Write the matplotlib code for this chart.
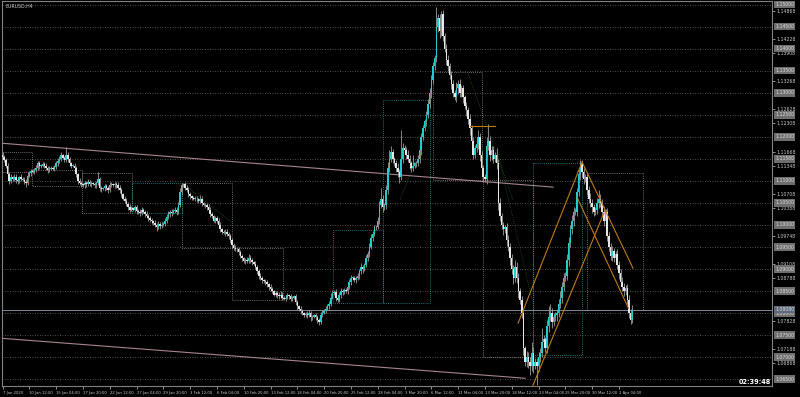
import numpy as np
import matplotlib
matplotlib.use("Agg")
from matplotlib import pyplot as plt
from matplotlib.transforms import blended_transform_factory

# EURUSD H4, 7 Jan 2020 20:00 -> 3 Apr 2020 12:00, prices in pips (1.1155 -> 11155)
first_open = 11160
closes = [
    11155,
    11148, 11135, 11115, 11100, 11108, 11105,  # 8 Jan
    11110, 11102, 11100, 11108, 11105, 11103,
    11098, 11095, 11112, 11118, 11122, 11120,
    11125, 11130, 11140, 11135, 11135, 11138,  # 13 Jan
    11135, 11130, 11125, 11128, 11130, 11128,
    11132, 11140, 11145, 11150, 11158, 11152,
    11148, 11160, 11150, 11140, 11135, 11135,
    11130, 11115, 11100, 11095, 11092, 11090,
    11095, 11092, 11098, 11093, 11095, 11093,  # 20 Jan
    11090, 11095, 11105, 11085, 11082, 11083,
    11088, 11085, 11080, 11090, 11092, 11090,
    11092, 11090, 11085, 11080, 11070, 11060,
    11055, 11048, 11040, 11035, 11038, 11035,
    11040, 11032, 11030, 11028, 11035, 11030,  # 27 Jan
    11025, 11020, 11015, 11012, 11008, 11005,
    11000, 10995, 11002, 10998, 11000, 11003,
    11010, 11018, 11025, 11030, 11028, 11032,
    11035, 11030, 11045, 11075, 11090, 11092,
    11085, 11080, 11070, 11065, 11062, 11060,  # 3 Feb
    11060, 11058, 11055, 11060, 11050, 11045,
    11045, 11040, 11035, 11025, 11020, 11010,
    11015, 11010, 11000, 10990, 10985, 10982,
    10985, 10980, 10975, 10965, 10955, 10948,
    10945, 10945, 10938, 10930, 10925, 10918,  # 10 Feb
    10920, 10918, 10925, 10920, 10915, 10912,
    10905, 10895, 10885, 10880, 10875, 10872,
    10870, 10865, 10860, 10855, 10850, 10842,
    10845, 10840, 10838, 10842, 10835, 10832,
    10835, 10840, 10838, 10832, 10835, 10838,  # 17 Feb
    10825, 10815, 10810, 10805, 10800, 10795,
    10798, 10795, 10800, 10790, 10792, 10795,
    10790, 10785, 10780, 10795, 10800, 10805,
    10810, 10815, 10820, 10835, 10845, 10848,
    10835, 10830, 10840, 10850, 10848, 10852,  # 24 Feb
    10850, 10860, 10870, 10880, 10880, 10875,
    10880, 10885, 10895, 10905, 10900, 10910,
    10925, 10935, 10950, 10970, 10980, 10995,
    10995, 11010, 11045, 11060, 11040, 11045,
    11080, 11130, 11150, 11165, 11150, 11140,  # 2 Mar
    11130, 11120, 11110, 11150, 11175, 11170,
    11160, 11150, 11140, 11130, 11135, 11140,
    11140, 11150, 11170, 11200, 11220, 11235,
    11250, 11275, 11300, 11330, 11360, 11380,
    11450, 11470, 11440, 11478, 11430, 11400,  # 9 Mar
    11375, 11360, 11340, 11320, 11300, 11290,
    11310, 11320, 11300, 11310, 11290, 11270,
    11260, 11240, 11220, 11190, 11160, 11175,
    11185, 11200, 11160, 11130, 11110, 11105,
    11180, 11190, 11160, 11170, 11150, 11160,  # 16 Mar
    11140, 11050, 11020, 11000, 10990, 10995,
    10965, 10950, 10925, 10900, 10880, 10905,
    10880, 10850, 10830, 10800, 10720, 10690,
    10700, 10690, 10680, 10710, 10680, 10690,
    10680, 10700, 10710, 10735, 10740, 10720,  # 23 Mar
    10770, 10790, 10800, 10780, 10790, 10795,
    10800, 10820, 10835, 10860, 10880, 10885,
    10920, 10960, 10990, 11010, 11030, 11030,
    11075, 11115, 11140, 11120, 11105, 11110,
    11080, 11060, 11050, 11040, 11030, 11035,  # 30 Mar
    11050, 11060, 11050, 11030, 11010, 11030,
    10975, 10950, 10930, 10940, 10925, 10935,
    10910, 10890, 10870, 10860, 10850, 10857,
    10830, 10800, 10785, 10808,
]
upper_wick = [
    6,
    5, 4, 6, 5, 7, 4,  5, 6, 5, 4, 7, 5,  5, 6, 8, 5, 6, 4,
    5, 7, 6, 5, 4, 5,  6, 5, 4, 6, 5, 3,  5, 6, 7, 6, 8, 4,  5, 18, 6, 5, 4, 3,  6, 5, 4, 6, 5, 3,
    4, 5, 6, 4, 5, 3,  5, 6, 15, 5, 4, 3,  5, 6, 4, 7, 5, 3,  6, 5, 7, 5, 4, 3,  5, 6, 5, 7, 5, 3,
    6, 5, 4, 6, 5, 3,  5, 6, 4, 5, 4, 3,  6, 5, 7, 5, 6, 4,  5, 6, 7, 5, 6, 4,  6, 5, 8, 10, 6, 4,
    5, 6, 7, 5, 4, 3,  5, 6, 4, 8, 5, 3,  6, 5, 7, 5, 4, 3,  5, 6, 5, 6, 4, 3,  5, 6, 4, 5, 6, 3,
    6, 5, 4, 6, 5, 3,  5, 7, 8, 6, 5, 3,  6, 5, 4, 6, 5, 3,  5, 6, 4, 7, 5, 3,  6, 5, 7, 9, 5, 3,
    5, 6, 4, 5, 4, 3,  6, 5, 4, 6, 5, 3,  5, 6, 7, 5, 4, 3,  6, 5, 4, 8, 7, 4,  5, 6, 7, 10, 8, 4,
    6, 5, 7, 6, 5, 4,  6, 7, 8, 6, 5, 4,  5, 7, 6, 8, 5, 4,  6, 7, 8, 9, 7, 5,  6, 9, 10, 25, 8, 4,
    10, 12, 20, 15, 8, 5,  8, 10, 7, 65, 12, 6,  7, 10, 8, 6, 25, 4,  6, 8, 9, 10, 8, 5,  8, 10, 12, 10, 9, 6,
    45, 10, 8, 7, 10, 6,  10, 12, 8, 10, 9, 6,  15, 10, 12, 9, 8, 5,  10, 9, 12, 8, 10, 6,  12, 15, 10, 8, 7, 5,
    20, 40, 12, 10, 9, 6,  15, 10, 12, 8, 7, 6,  10, 12, 9, 8, 10, 15,  10, 12, 8, 9, 10, 6,  15, 12, 10, 25, 12, 8,
    8, 12, 10, 30, 10, 6,  15, 25, 20, 12, 10, 8,  10, 12, 15, 10, 12, 8,  15, 12, 10, 12, 10, 8,  10, 12, 7, 8, 10, 6,
    10, 8, 12, 9, 8, 6,  12, 20, 10, 8, 12, 6,  8, 10, 9, 12, 8, 6,  10, 8, 9, 12, 8, 6,  8, 10, 9, 10,
]
lower_wick = [
    5,
    6, 5, 7, 8, 5, 4,  5, 7, 6, 4, 5, 3,  6, 8, 5, 4, 6, 3,
    5, 4, 6, 7, 5, 3,  6, 5, 7, 5, 4, 3,  5, 4, 6, 5, 4, 3,  6, 5, 7, 6, 5, 3,  5, 6, 7, 5, 6, 4,
    5, 6, 4, 5, 6, 3,  6, 5, 4, 7, 6, 3,  5, 6, 7, 5, 4, 3,  5, 6, 5, 7, 6, 4,  6, 5, 7, 5, 4, 3,
    5, 6, 5, 7, 5, 3,  6, 5, 7, 6, 5, 4,  5, 8, 5, 6, 5, 3,  6, 5, 4, 6, 7, 3,  5, 7, 6, 5, 8, 4,
    6, 5, 7, 6, 5, 3,  5, 6, 5, 4, 6, 3,  6, 5, 7, 6, 5, 4,  5, 6, 7, 5, 6, 3,  6, 5, 7, 6, 8, 4,
    5, 6, 7, 5, 6, 4,  6, 5, 4, 6, 5, 3,  5, 6, 7, 5, 6, 4,  6, 5, 7, 6, 5, 4,  5, 6, 5, 4, 6, 3,
    5, 4, 6, 5, 4, 3,  6, 7, 5, 6, 5, 4,  5, 6, 4, 8, 5, 3,  6, 7, 6, 5, 4, 3,  5, 4, 6, 5, 4, 3,
    8, 6, 5, 6, 7, 4,  5, 6, 5, 7, 6, 4,  6, 5, 7, 6, 8, 4,  5, 6, 7, 5, 6, 4,  6, 5, 8, 7, 10, 5,
    8, 10, 9, 7, 10, 6,  10, 12, 15, 8, 10, 6,  10, 8, 12, 10, 7, 5,  8, 7, 9, 10, 8, 6,  10, 8, 9, 12, 10, 7,
    10, 12, 15, 10, 12, 8,  12, 10, 9, 12, 10, 7,  10, 12, 9, 10, 12, 6,  12, 10, 15, 12, 10, 8,  10, 12, 15, 10, 12, 8,
    12, 10, 15, 12, 10, 8,  12, 15, 12, 10, 12, 8,  12, 10, 15, 12, 15, 10,  12, 15, 10, 12, 15, 10,  12, 15, 20, 12, 15, 8,
    44, 12, 10, 9, 12, 8,  10, 12, 9, 15, 10, 8,  12, 10, 9, 12, 10, 8,  10, 12, 9, 10, 12, 8,  10, 9, 12, 10, 12, 8,
    12, 10, 9, 12, 10, 8,  10, 12, 9, 10, 12, 8,  12, 10, 9, 12, 10, 8,  10, 12, 9, 10, 12, 8,  10, 12, 9, 8,
]

x_labels = ["7 Jan 2020", "10 Jan 12:00", "15 Jan 04:00", "17 Jan 20:00", "22 Jan 12:00",
            "27 Jan 04:00", "29 Jan 20:00", "3 Feb 12:00", "6 Feb 04:00", "10 Feb 20:00",
            "13 Feb 12:00", "18 Feb 04:00", "20 Feb 20:00", "25 Feb 12:00", "28 Feb 04:00",
            "3 Mar 20:00", "6 Mar 12:00", "11 Mar 04:00", "13 Mar 20:00", "18 Mar 12:00",
            "23 Mar 04:00", "25 Mar 20:00", "30 Mar 12:00", "2 Apr 04:00"]
label_step = 16  # bars between time labels

# objects on the chart: (bar0, bar1, price top, price bottom)
gray_boxes = [(-2, 17.6, 11166, 11120), (17.6, 47.5, 11125, 11088), (47.5, 77.3, 11118, 11027),
              (107.2, 137, 11095, 10947), (137, 167.5, 10947, 10829), (257, 286.3, 11347, 11102),
              (286.9, 316.7, 11102, 10700), (349, 382.4, 11118, 10807)]
cyan_boxes = [(77.3, 107.2, 11095, 11027), (197.3, 227.2, 10988, 10823),
              (227.2, 255, 11284, 10823), (316.7, 346, 11141, 10704)]
trend_lines = [((-1.5, 11186), (328.7, 11086)), ((-1.5, 10743), (312, 10652))]
orange_lines = [((307.8, 10777), (346, 11143)), ((316.7, 10636), (359, 11027)),
                ((346, 11143), (376.4, 10902)), ((343, 11063), (373.7, 10811)),
                ((279, 11225), (294, 11225))]
zigzag_lines = [((107.2, 11095), (137.6, 11004)), ((237.3, 11057), (257, 11245)),
                ((277.9, 11345), (304.8, 11057)), ((295.2, 11170), (316.7, 10822))]
timer_text = "02:39:48"
symbol_text = "EURUSD,H4"

# ---------------------------------------------------------------
c = np.array(closes) / 10000.0
o = np.concatenate([[first_open / 10000.0], c[:-1]])
h = np.maximum(o, c) + np.array(upper_wick) / 10000.0
l = np.minimum(o, c) - np.array(lower_wick) / 10000.0
n = len(c)
idx = np.arange(n)
up = c >= o

fig = plt.figure(figsize=(8, 3.97), dpi=100, facecolor="black")
ax = fig.add_axes([2 / 800, 11 / 397, 770 / 800, 385 / 397], facecolor="black")
bar_px = 1.675
ax.set_xlim(-0.3, -0.3 + 770 / bar_px)
ax.set_ylim(1.06344, 1.15086)

# round number levels
levels = np.arange(1.0650, 1.15001, 0.005)
for lv in levels:
    ax.axhline(lv, color="#6a6a6a", lw=0.6, ls=(0, (1, 2)), zorder=1)

for b0, b1, pt, pb in gray_boxes:
    ax.plot([b0, b1, b1, b0, b0], np.array([pt, pt, pb, pb, pt]) / 10000.0,
            color="#8c8c8c", lw=0.6, ls=(0, (1, 1.5)), zorder=2)
for b0, b1, pt, pb in cyan_boxes:
    ax.plot([b0, b1, b1, b0, b0], np.array([pt, pt, pb, pb, pt]) / 10000.0,
            color="#1a9a9a", lw=0.6, ls=(0, (1, 1.5)), zorder=2)
for (x0, p0), (x1, p1) in zigzag_lines:
    ax.plot([x0, x1], [p0 / 10000.0, p1 / 10000.0], color="#1c5a1c", lw=0.6,
            ls=(0, (1, 1.5)), zorder=2)
for (x0, p0), (x1, p1) in trend_lines:
    ax.plot([x0, x1], [p0 / 10000.0, p1 / 10000.0], color="#a8848e", lw=0.8, zorder=3)

# candles
ax.vlines(idx, l, h, color="#9c9c9c", lw=0.6, zorder=4)
body_bot = np.minimum(o, c)
body_h = np.maximum(np.abs(c - o), 0.0001)
ax.bar(idx[up], body_h[up], bottom=body_bot[up], width=0.9, color="#22cccc", lw=0, zorder=5)
ax.bar(idx[~up], body_h[~up], bottom=body_bot[~up], width=0.9, color="#e6e6e6", lw=0, zorder=5)

for (x0, p0), (x1, p1) in orange_lines:
    ax.plot([x0, x1], [p0 / 10000.0, p1 / 10000.0], color="#c07a12", lw=0.8, zorder=6)

# bid line
ax.axhline(c[-1], color="#7d8a9c", lw=0.7, zorder=3)

# axes look
for sp in ax.spines.values():
    sp.set_color("#808080")
    sp.set_linewidth(0.8)
ax.yaxis.tick_right()
yt = np.arange(1.14868, 1.0640, -0.0032)
# labels sitting under a level box are hidden in the terminal
yt = [v for v in yt if np.min(np.abs(levels - v)) > 0.0009 and abs(v - c[-1]) > 0.0009]
ax.set_yticks(yt)
ax.set_yticklabels(["%.5f" % v for v in yt])
ax.tick_params(axis="y", colors="#c8c8c8", labelsize=3.3, length=2, width=0.5, pad=1)
xt = idx[::label_step]
ax.set_xticks(xt)
ax.set_xticklabels(x_labels[:len(xt)], ha="left")
ax.tick_params(axis="x", colors="#c8c8c8", labelsize=2.7, length=2, width=0.5, pad=1.5)

trans = blended_transform_factory(ax.transAxes, ax.transData)
for lv in levels:
    ax.text(1.004, lv, "%.5f" % lv, transform=trans, fontsize=3.3, color="#dddddd",
            va="center", ha="left", zorder=10,
            bbox=dict(boxstyle="square,pad=0.25", fc="#6e6e6e", ec="none"))
ax.text(1.004, c[-1], "%.5f" % c[-1], transform=trans, fontsize=3.3, color="#dddddd",
        va="center", ha="left", zorder=11,
        bbox=dict(boxstyle="square,pad=0.25", fc="#5c6a7c", ec="none"))

ax.text(0.004, 0.993, symbol_text, transform=ax.transAxes, fontsize=3.4, color="#c8c8c8",
        va="top", ha="left")
ax.text(0.999, 0.011, timer_text, transform=ax.transAxes, fontsize=4.7, color="white",
        fontweight="bold", va="center", ha="right", zorder=12)

fig.savefig("out.png", dpi=100, facecolor="black")
